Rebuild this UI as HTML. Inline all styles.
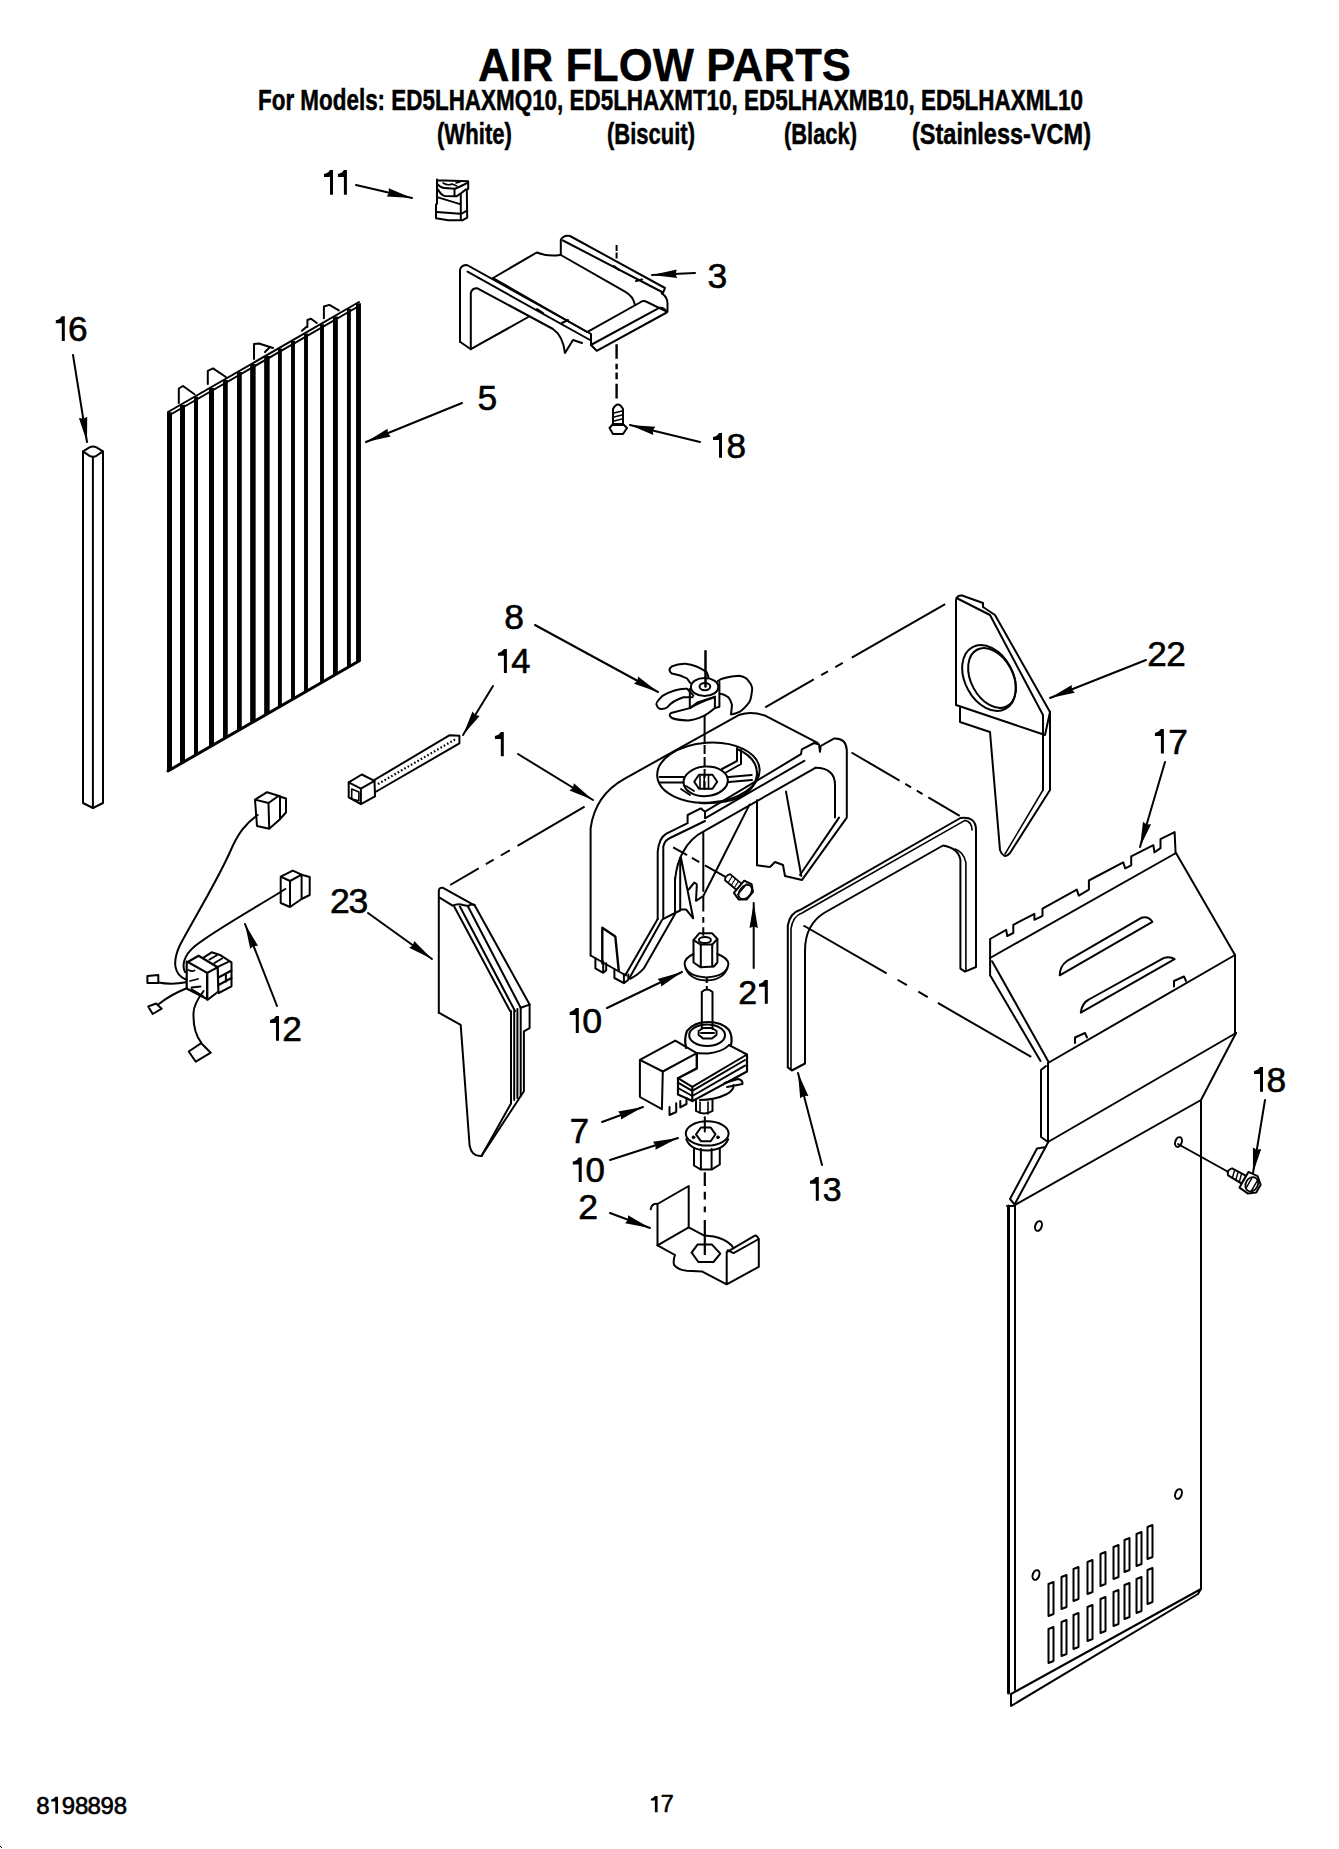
<!DOCTYPE html>
<html><head><meta charset="utf-8"><style>
html,body{margin:0;padding:0;background:#fff;width:1339px;height:1849px;overflow:hidden}
svg{display:block;font-family:"Liberation Sans",sans-serif}
</style></head><body>
<svg width="1339" height="1849" viewBox="0 0 1339 1849" stroke="#000" fill="none" stroke-linejoin="round" stroke-linecap="round">
<text x="478" y="80.8" font-size="45.5" font-weight="bold" text-anchor="start" textLength="373" lengthAdjust="spacingAndGlyphs" stroke="#000" stroke-width="0.3" fill="#000">AIR FLOW PARTS</text>
<text x="258" y="109.5" font-size="29" font-weight="bold" text-anchor="start" textLength="825" lengthAdjust="spacingAndGlyphs" stroke="#000" stroke-width="0.5" fill="#000">For Models: ED5LHAXMQ10, ED5LHAXMT10, ED5LHAXMB10, ED5LHAXML10</text>
<text x="437" y="144" font-size="29" font-weight="bold" text-anchor="start" textLength="75" lengthAdjust="spacingAndGlyphs" stroke="#000" stroke-width="0.5" fill="#000">(White)</text>
<text x="607" y="144" font-size="29" font-weight="bold" text-anchor="start" textLength="88" lengthAdjust="spacingAndGlyphs" stroke="#000" stroke-width="0.5" fill="#000">(Biscuit)</text>
<text x="784" y="144" font-size="29" font-weight="bold" text-anchor="start" textLength="73" lengthAdjust="spacingAndGlyphs" stroke="#000" stroke-width="0.5" fill="#000">(Black)</text>
<text x="912" y="144" font-size="29" font-weight="bold" text-anchor="start" textLength="179" lengthAdjust="spacingAndGlyphs" stroke="#000" stroke-width="0.5" fill="#000">(Stainless-VCM)</text>
<polygon points="324.0,174.0 325.5,173.6 328.0,172.4 330.0,170.0 333.0,170.0 333.0,194.8 330.0,194.8 330.0,177.0 324.0,177.0" fill="#000" stroke="none"/>
<polygon points="337.9,174.0 339.4,173.6 341.9,172.4 343.9,170.0 346.9,170.0 346.9,194.8 343.9,194.8 343.9,177.0 337.9,177.0" fill="#000" stroke="none"/>
<text x="707.58" y="287.80" font-size="35.43" stroke="#000" stroke-width="0.6" fill="#000">3</text>
<polygon points="55.8,320.3 57.3,319.9 59.8,318.7 61.8,316.3 64.8,316.3 64.8,341.0 61.8,341.0 61.8,323.3 55.8,323.3" fill="#000" stroke="none"/>
<text x="67.94" y="341.00" font-size="35.29" stroke="#000" stroke-width="0.6" fill="#000">6</text>
<text x="477.58" y="409.90" font-size="35.43" stroke="#000" stroke-width="0.6" fill="#000">5</text>
<polygon points="713.0,437.1 714.5,436.7 717.0,435.5 719.0,433.1 722.0,433.1 722.0,457.8 719.0,457.8 719.0,440.1 713.0,440.1" fill="#000" stroke="none"/>
<text x="726.59" y="457.75" font-size="35.21" stroke="#000" stroke-width="0.6" fill="#000">8</text>
<text x="504.18" y="628.70" font-size="35.43" stroke="#000" stroke-width="0.6" fill="#000">8</text>
<polygon points="498.0,652.9 499.5,652.5 501.9,651.3 503.9,649.0 506.9,649.0 506.9,673.1 503.9,673.1 503.9,655.8 498.0,655.8" fill="#000" stroke="none"/>
<text x="511.21" y="673.10" font-size="34.43" stroke="#000" stroke-width="0.6" fill="#000">4</text>
<text x="1147.34" y="665.70" font-size="35.14" stroke="#000" stroke-width="0.6" fill="#000">2</text>
<text x="1166.24" y="665.70" font-size="35.14" stroke="#000" stroke-width="0.6" fill="#000">2</text>
<polygon points="494.9,736.0 496.4,735.6 498.8,734.4 500.8,732.1 503.8,732.1 503.8,756.2 500.8,756.2 500.8,738.9 494.9,738.9" fill="#000" stroke="none"/>
<polygon points="1154.9,732.9 1156.4,732.5 1158.9,731.3 1160.9,728.9 1163.9,728.9 1163.9,753.6 1160.9,753.6 1160.9,735.9 1154.9,735.9" fill="#000" stroke="none"/>
<text x="1168.24" y="753.60" font-size="35.29" stroke="#000" stroke-width="0.6" fill="#000">7</text>
<text x="330.12" y="912.90" font-size="35.57" stroke="#000" stroke-width="0.6" fill="#000">2</text>
<text x="348.58" y="912.90" font-size="35.57" stroke="#000" stroke-width="0.6" fill="#000">3</text>
<text x="738.31" y="1003.70" font-size="33.86" stroke="#000" stroke-width="0.6" fill="#000">2</text>
<polygon points="759.0,983.8 760.4,983.5 762.8,982.3 764.8,980.0 767.8,980.0 767.8,1003.7 764.8,1003.7 764.8,986.7 759.0,986.7" fill="#000" stroke="none"/>
<polygon points="569.7,1011.9 571.2,1011.5 573.7,1010.3 575.8,1007.9 578.8,1007.9 578.8,1032.9 575.8,1032.9 575.8,1015.0 569.7,1015.0" fill="#000" stroke="none"/>
<text x="582.27" y="1032.90" font-size="35.71" stroke="#000" stroke-width="0.6" fill="#000">0</text>
<polygon points="270.0,1020.0 271.5,1019.6 274.0,1018.4 276.0,1016.0 279.0,1016.0 279.0,1040.7 276.0,1040.7 276.0,1023.0 270.0,1023.0" fill="#000" stroke="none"/>
<text x="282.24" y="1040.70" font-size="35.29" stroke="#000" stroke-width="0.6" fill="#000">2</text>
<polygon points="1254.0,1071.0 1255.5,1070.6 1258.0,1069.4 1260.0,1067.0 1263.0,1067.0 1263.0,1091.7 1260.0,1091.7 1260.0,1074.0 1254.0,1074.0" fill="#000" stroke="none"/>
<text x="1266.59" y="1091.70" font-size="35.29" stroke="#000" stroke-width="0.6" fill="#000">8</text>
<text x="569.86" y="1143.00" font-size="34.71" stroke="#000" stroke-width="0.6" fill="#000">7</text>
<polygon points="572.8,1161.6 574.3,1161.2 576.8,1160.0 578.7,1157.6 581.7,1157.6 581.7,1182.0 578.7,1182.0 578.7,1164.5 572.8,1164.5" fill="#000" stroke="none"/>
<text x="585.41" y="1182.00" font-size="34.86" stroke="#000" stroke-width="0.6" fill="#000">0</text>
<polygon points="810.0,1180.8 811.4,1180.5 813.8,1179.3 815.8,1177.0 818.8,1177.0 818.8,1200.7 815.8,1200.7 815.8,1183.7 810.0,1183.7" fill="#000" stroke="none"/>
<text x="822.65" y="1200.70" font-size="33.86" stroke="#000" stroke-width="0.6" fill="#000">3</text>
<text x="578.22" y="1218.90" font-size="35.57" stroke="#000" stroke-width="0.6" fill="#000">2</text>
<text x="36.14" y="1813.60" font-size="24.00" stroke="#000" stroke-width="0.6" fill="#000">8</text>
<polygon points="51.2,1799.5 52.2,1799.2 53.9,1798.4 55.3,1796.8 58.0,1796.8 58.0,1813.6 55.3,1813.6 55.3,1801.6 51.2,1801.6" fill="#000" stroke="none"/>
<text x="61.70" y="1813.60" font-size="24.00" stroke="#000" stroke-width="0.6" fill="#000">9</text>
<text x="74.94" y="1813.60" font-size="24.00" stroke="#000" stroke-width="0.6" fill="#000">8</text>
<text x="87.44" y="1813.60" font-size="24.00" stroke="#000" stroke-width="0.6" fill="#000">8</text>
<text x="100.60" y="1813.60" font-size="24.00" stroke="#000" stroke-width="0.6" fill="#000">9</text>
<text x="113.74" y="1813.60" font-size="24.00" stroke="#000" stroke-width="0.6" fill="#000">8</text>
<polygon points="650.9,1798.6 651.9,1798.4 653.5,1797.6 654.9,1796.0 657.6,1796.0 657.6,1812.3 654.9,1812.3 654.9,1800.6 650.9,1800.6" fill="#000" stroke="none"/>
<text x="660.74" y="1812.30" font-size="23.29" stroke="#000" stroke-width="0.6" fill="#000">7</text>
<line x1="356" y1="185" x2="412" y2="198" stroke-width="2" />
<polygon points="412.0,198.0 386.7,196.4 389.1,192.7 388.6,188.3" fill="#000" stroke="none"/>
<line x1="695" y1="273" x2="652" y2="275" stroke-width="2" />
<polygon points="652.0,275.0 676.8,269.6 675.5,273.9 677.2,278.0" fill="#000" stroke="none"/>
<line x1="73" y1="355" x2="87" y2="442" stroke-width="2" />
<polygon points="87.0,442.0 78.9,418.0 83.3,418.8 87.2,416.7" fill="#000" stroke="none"/>
<line x1="462" y1="403" x2="366" y2="442" stroke-width="2" />
<polygon points="366.0,442.0 387.6,428.7 387.8,433.2 390.7,436.5" fill="#000" stroke="none"/>
<line x1="700" y1="442" x2="630" y2="425" stroke-width="2" />
<polygon points="630.0,425.0 655.3,426.8 652.8,430.5 653.3,435.0" fill="#000" stroke="none"/>
<line x1="535" y1="625" x2="658" y2="692" stroke-width="2" />
<polygon points="658.0,692.0 634.0,683.7 637.4,680.8 638.1,676.4" fill="#000" stroke="none"/>
<line x1="493" y1="686" x2="463" y2="735" stroke-width="2" />
<polygon points="463.0,735.0 472.5,711.5 475.3,715.0 479.6,715.9" fill="#000" stroke="none"/>
<line x1="1146" y1="660" x2="1050" y2="698" stroke-width="2" />
<polygon points="1050.0,698.0 1071.7,684.9 1071.9,689.4 1074.8,692.7" fill="#000" stroke="none"/>
<line x1="518" y1="754" x2="593" y2="800" stroke-width="2" />
<polygon points="593.0,800.0 569.5,790.5 573.0,787.7 573.9,783.3" fill="#000" stroke="none"/>
<line x1="1165" y1="762" x2="1140" y2="847" stroke-width="2" />
<polygon points="1140.0,847.0 1143.0,821.8 1146.6,824.5 1151.1,824.2" fill="#000" stroke="none"/>
<line x1="368" y1="913" x2="432" y2="959" stroke-width="2" />
<polygon points="432.0,959.0 409.2,947.8 412.9,945.3 414.2,941.0" fill="#000" stroke="none"/>
<line x1="753.7" y1="968" x2="753.7" y2="903" stroke-width="2" />
<polygon points="753.7,903.0 757.9,928.0 753.7,926.5 749.5,928.0" fill="#000" stroke="none"/>
<line x1="607" y1="1008" x2="682" y2="972" stroke-width="2" />
<polygon points="682.0,972.0 661.3,986.6 660.8,982.2 657.6,979.0" fill="#000" stroke="none"/>
<line x1="277" y1="1006" x2="245" y2="924" stroke-width="2" />
<polygon points="245.0,924.0 258.0,945.8 253.5,945.9 250.2,948.8" fill="#000" stroke="none"/>
<line x1="1265" y1="1100" x2="1253" y2="1173" stroke-width="2" />
<polygon points="1253.0,1173.0 1252.9,1147.6 1256.8,1149.8 1261.2,1149.0" fill="#000" stroke="none"/>
<line x1="602" y1="1122" x2="643" y2="1107" stroke-width="2" />
<polygon points="643.0,1107.0 621.0,1119.5 620.9,1115.1 618.1,1111.6" fill="#000" stroke="none"/>
<line x1="610" y1="1160" x2="678" y2="1138" stroke-width="2" />
<polygon points="678.0,1138.0 655.5,1149.7 655.6,1145.2 652.9,1141.7" fill="#000" stroke="none"/>
<line x1="610" y1="1213" x2="650" y2="1228" stroke-width="2" />
<polygon points="650.0,1228.0 625.1,1223.2 628.0,1219.7 628.1,1215.3" fill="#000" stroke="none"/>
<line x1="822" y1="1165" x2="798" y2="1073" stroke-width="2" />
<polygon points="798.0,1073.0 808.4,1096.1 803.9,1095.7 800.2,1098.3" fill="#000" stroke="none"/>
<path d="M83,451.4 L89.5,447.3 Q93,445.8 96.5,447.3 L102.9,451.4 L96.5,455.8 Q93,457.6 89.5,455.8 Z" stroke-width="2" fill="none" />
<path d="M83,451.4 L83,803 L93,808 L103,803 L103,451.4" stroke-width="2" fill="none" />
<line x1="92.9" y1="457" x2="92.9" y2="808" stroke-width="2" />
<line x1="169.5" y1="412.13612565445027" x2="169.5" y2="770.1361256544502" stroke-width="5" stroke-linecap="butt"/>
<line x1="182.5" y1="404.64921465968587" x2="182.5" y2="762.6492146596859" stroke-width="5" stroke-linecap="butt"/>
<line x1="196" y1="396.8743455497382" x2="196" y2="754.8743455497382" stroke-width="4" stroke-linecap="butt"/>
<line x1="211.5" y1="387.9476439790576" x2="211.5" y2="745.9476439790576" stroke-width="5" stroke-linecap="butt"/>
<line x1="225.4" y1="379.94240837696333" x2="225.4" y2="737.9424083769634" stroke-width="4.75" stroke-linecap="butt"/>
<line x1="239.4" y1="371.87958115183244" x2="239.4" y2="729.8795811518324" stroke-width="4.75" stroke-linecap="butt"/>
<line x1="252.9" y1="364.1047120418848" x2="252.9" y2="722.1047120418848" stroke-width="5.5" stroke-linecap="butt"/>
<line x1="266.9" y1="356.04188481675396" x2="266.9" y2="714.041884816754" stroke-width="5.5" stroke-linecap="butt"/>
<line x1="279.9" y1="348.5549738219895" x2="279.9" y2="706.5549738219895" stroke-width="3.9" stroke-linecap="butt"/>
<line x1="293" y1="341.0104712041885" x2="293" y2="699.0104712041884" stroke-width="3.9" stroke-linecap="butt"/>
<line x1="306" y1="333.5235602094241" x2="306" y2="691.5235602094241" stroke-width="3.9" stroke-linecap="butt"/>
<line x1="322" y1="324.30890052356017" x2="322" y2="682.3089005235602" stroke-width="3.9" stroke-linecap="butt"/>
<line x1="335.4" y1="316.59162303664925" x2="335.4" y2="674.5916230366493" stroke-width="4.9" stroke-linecap="butt"/>
<line x1="348.9" y1="308.8167539267016" x2="348.9" y2="666.8167539267016" stroke-width="3.9" stroke-linecap="butt"/>
<line x1="358.5" y1="303.28795811518324" x2="358.5" y2="661.2879581151832" stroke-width="4.9" stroke-linecap="butt"/>
<line x1="168" y1="412" x2="359" y2="302" stroke-width="2" />
<line x1="168" y1="416" x2="359" y2="306" stroke-width="2" />
<line x1="168" y1="771" x2="359" y2="661.0" stroke-width="3" />
<path d="M178.8,403 L178.8,388.5 L183,386 L194.5,394.3" stroke-width="2" fill="none" />
<path d="M207.8,384 L207.8,370.8 L213,368.4 L225.9,377" stroke-width="2" fill="none" />
<path d="M254,359 L254,344 L259,343.5 L273,348" stroke-width="2" fill="none" />
<path d="M265,352 L270,347" stroke-width="2" fill="none" />
<path d="M307.4,327 L307.4,320 L311,318.8 L316.8,323 M302,330.8 L307.4,326" stroke-width="2" fill="none" />
<path d="M323.9,318.2 L323.9,306.5 L329.4,304.9 L338.8,310.4" stroke-width="2" fill="none" />
<path d="M437,179.5 L437,203.7 L436,204.5 L436,218.3 L448.2,220.2 L462.7,220.2 L467.2,217.6 L466.8,189.5 L468.2,189 L468.2,181.3 L437,180.2" stroke-width="2" fill="none" />
<line x1="460.8" y1="194.4" x2="460.8" y2="219.8" stroke-width="2" />
<path d="M437.7,184.3 Q441,188 444.4,188 L454.9,188.8 Q462,186 467.2,182.8" stroke-width="2" fill="none" />
<path d="M438,189.5 Q441,195 444.4,195.9 L456.4,196.3 Q462,193 465.7,189.5" stroke-width="2" fill="none" />
<path d="M438,197.4 L460.1,204.1" stroke-width="2" fill="none" />
<path d="M436.6,212 L460.1,213.8 M462,213.4 L466,211.2" stroke-width="2" fill="none" />
<path d="M454.5,189.5 L454.5,195.2" stroke-width="2" fill="none" />
<path d="M443,183 Q448,186 452,184 L457,186 M456,183 L460,182 M459,187 L462,185" stroke-width="1.5" fill="none" />
<path d="M460,341.7 L460,270 Q461,265 467,265 L591,334 L591,345" stroke-width="2" fill="none" />
<path d="M460,341.7 L470.8,349.2 L528.3,317" stroke-width="2" fill="none" />
<path d="M470.8,349.2 L470.8,293 Q472,288 477.5,288.3 L553,329 Q563,336 565,353 L573,340 L582,343" stroke-width="2" fill="none" />
<path d="M467.5,271.7 L590,340" stroke-width="2" fill="none" />
<path d="M493,278 L587,332" stroke-width="2" fill="none" />
<path d="M493,278 L536.7,252.5 Q548,257 560,255 L560.8,255" stroke-width="2" fill="none" />
<path d="M560.8,255 L560.8,240 Q563,235 570,236 L665,288 L663,293" stroke-width="2" fill="none" />
<path d="M563,240.5 L663,292.5" stroke-width="2" fill="none" />
<path d="M560.8,255 L625,291.7 Q633,296 635,305" stroke-width="2" fill="none" />
<path d="M661.7,293.3 Q667.5,297 667.5,303.3 L667.5,311.7" stroke-width="2" fill="none" />
<path d="M588,331.7 L640,302.5 Q643,300 647,302 L666.7,311.7" stroke-width="2" fill="none" />
<path d="M590.8,345 L659.2,307.8 Q664,307 666.7,311.7" stroke-width="2" fill="none" />
<path d="M591,345 L596.7,350.8 L666.7,312.5" stroke-width="2" fill="none" />
<line x1="616.6" y1="245" x2="616.6" y2="259.4" stroke-width="2" stroke-dasharray="6 1.5 6" stroke-linecap="butt"/>
<line x1="616.6" y1="344.2" x2="616.6" y2="398.6" stroke-width="2.4" stroke-dasharray="14.5 5 5.6 3.3 6.7 4.4 15" stroke-linecap="butt"/>
<path d="M614,266 L619,270 M636,281 L642,279.5" stroke-width="2" fill="none" />
<path d="M537,309 L543,313 M562,323 L568,320" stroke-width="2" fill="none" />
<path d="M613,409 Q618,400 623,409 L623,425 L613,425 Z" stroke-width="2" fill="none" />
<path d="M614,413 L622,411 M614,417 L622,415 M614,421 L622,419" stroke-width="1.5" fill="none" />
<path d="M609.5,428 L613,424 L623,424 L627,428 L623,434 L613,434 Z" stroke-width="2" fill="none" />
<path d="M348.7,782.3 L361.8,774.5 L374.5,780.8 L360.9,788.6 Z" stroke-width="2" fill="none" />
<path d="M348.7,782.3 L348.7,797.3 L360.9,804.1 L360.9,788.6 M360.9,804.1 L375,796.4 L374.5,780.8" stroke-width="2" fill="none" />
<path d="M351.7,789 L351.7,799 L358.9,800.7 L358.9,792 Z" stroke-width="1.6" fill="none" />
<path d="M374.5,779.9 L449.7,735.2 L459.4,735.7 L459.4,743.4 L375.4,792" stroke-width="2" fill="none" />
<path d="M378,784 L455,739.5" stroke-width="2.2" stroke-dasharray="1.6 2.2" stroke-linecap="butt"/>
<path d="M255,799.6 L257,826 L269.2,828.7 L280,819.2 L280,796.2 L267.1,792.2 Z M255,799.6 L268.5,803 L278,796.2 M268.5,803 L269.2,828.7" stroke-width="2" fill="none" />
<path d="M278,796 L286,798.5 L286,812.5 L280,819" stroke-width="2" fill="none" />
<path d="M257.7,815 C246,823 238,833 230,852 C215,885 192,922 180,945 C172,962 174,975 186,979.5" stroke-width="2" fill="none" />
<path d="M280.7,878 L280.7,903 L290,907 L301.6,899 L301.6,874.7 L292.8,870.6 L280.7,876.7 L290,881 L301.6,874.7 M290,881 L290,907" stroke-width="2" fill="none" />
<path d="M301.6,874.7 L309.7,877 L309.7,895 L301.6,899" stroke-width="2" fill="none" />
<path d="M285.4,889 C260,905 215,930 195,946 C183,956 182,966 185,972" stroke-width="2" fill="none" />
<path d="M187.8,962 L198.6,955.7 L217.7,967.3 L207.2,972.9 Z" stroke-width="2.2" fill="none" />
<path d="M186.7,961.7 L186.7,988.5 L208,999.5 L218.4,991.5 L217.7,967.3" stroke-width="2.2" fill="none" />
<line x1="207.2" y1="972.9" x2="207.2" y2="999.5" stroke-width="2.4" />
<path d="M204.2,957.2 L211.7,952.3 L220.7,955.3 L231.5,962.4 L231.5,986.3 L218.7,993" stroke-width="2" fill="none" />
<path d="M217.7,966.9 L228.9,961.7 M209.5,959.5 L216.5,955.5 M214.5,963 L222,958.5" stroke-width="2" fill="none" />
<path d="M218.5,977.5 L231.5,970.5 M218.5,985 L231.5,978 M225.9,973.6 L225.9,981.8" stroke-width="2" fill="none" />
<path d="M188.5,970 Q192,972 194.5,970.5 M190,981 L198,979 M191.5,987.5 L200.5,986.5 M191.5,989.3 L203,996" stroke-width="1.8" fill="none" />
<path d="M147.4,976 L147.4,983 L158.3,983 L158.3,975 Z" stroke-width="2" fill="none" />
<path d="M158.3,982.5 Q172,985 186,982.2" stroke-width="2" fill="none" />
<path d="M148.2,1006.5 L156.1,1003.5 L161.7,1008.7 L152.7,1014 Z" stroke-width="2" fill="none" />
<path d="M157.6,1005 Q170,995 186.7,988.3" stroke-width="2" fill="none" />
<path d="M203.6,991 Q193,1005 193.5,1014 Q193,1032 201.2,1042.6" stroke-width="2" fill="none" />
<path d="M188.7,1051.5 L201.2,1043.2 L210.8,1052.7 L195.8,1061.7 Z" stroke-width="2" fill="none" />
<path d="M438.8,1012.7 L438.8,891 Q439,887 443,887.8 L473.6,904.9" stroke-width="2" fill="none" />
<path d="M439.6,897.6 L452.6,905.7 Q458,903 463,905 L468,906 Q472,904 474.5,904.9" stroke-width="2" fill="none" />
<line x1="454.2" y1="906.5" x2="510.1" y2="1011" stroke-width="2" />
<line x1="459.9" y1="906.5" x2="515" y2="1011" stroke-width="2" />
<line x1="468" y1="906.5" x2="520.7" y2="1007.8" stroke-width="2" />
<line x1="474.5" y1="904.9" x2="529.6" y2="1004.6" stroke-width="2" />
<path d="M520.7,1007.8 L529.6,1004.6 L529.6,1028.1 L523.9,1031.3 L523.9,1091.3 L481.8,1155.4" stroke-width="2" fill="none" />
<line x1="511" y1="1011" x2="511" y2="1103.5" stroke-width="2" />
<line x1="514.2" y1="1011" x2="514.2" y2="1100" stroke-width="2" />
<line x1="517.4" y1="1009" x2="517.4" y2="1098" stroke-width="2" />
<line x1="520.7" y1="1008" x2="520.7" y2="1096" stroke-width="2" />
<line x1="511" y1="1103.5" x2="481.8" y2="1155.4" stroke-width="2" />
<path d="M438.8,1012.7 L460.7,1024.9 L469.6,1145.7 Q472,1157 481.8,1156" stroke-width="2" fill="none" />
<line x1="450.2" y1="885" x2="584.6" y2="806.7" stroke-width="2" stroke-dasharray="33 8.3 9 8.3 10.4 8.9 80" stroke-linecap="butt"/>
<path d="M590.6,955.5 L590.6,828.4 Q595,795 624.8,778.6 L739.6,714.7 Q752,711 765.6,715.8 L817.6,742.9" stroke-width="2" fill="none" />
<path d="M590.6,955.5 L626,975.5" stroke-width="2" fill="none" />
<path d="M595.4,958 L595.4,968.4 L603.2,972.8 L606.2,970.2 L606.2,963.3 M603.2,961.5 L603.2,972.8" stroke-width="2" fill="none" />
<path d="M614.4,969.3 L614.4,978 L623.9,983.2 L628.3,979.7 L628.3,974.5 M623.9,974 L623.9,983.2" stroke-width="2" fill="none" />
<path d="M602.3,963.3 L602.3,927.8 L615.3,936.4 L618.7,970.2" stroke-width="2.4" fill="none" />
<path d="M657.7,919.1 L657.7,851.6 Q659,838 666,833.8 L687.6,823.2 L687.6,815 L700.8,808.4 L705,811.7 L705,818.3 L804.3,760.8" stroke-width="2" fill="none" />
<path d="M663.3,918.3 L663.3,846.4 Q665,840 670,838 L705,821" stroke-width="2" fill="none" />
<path d="M657.7,919.1 L625.7,974.5" stroke-width="2" fill="none" />
<path d="M662,920 L630,977.1" stroke-width="2" fill="none" />
<path d="M675,913.9 L643.8,968.4 Q638,975 630,978.8" stroke-width="2" fill="none" />
<path d="M662.9,919.1 L675,913 L680.2,910.5" stroke-width="2" fill="none" />
<path d="M675,880 Q677,862 682.8,852.5 Q690,838 705,830.6 L815.4,767.8" stroke-width="2" fill="none" />
<path d="M675,913 L675,878 M680.2,858 L680.2,909.6 L686.2,909.6 L693.2,918.3 L681,858" stroke-width="2" fill="none" />
<path d="M688.7,889.5 L694.3,882.6 Q697,883.5 696.8,885.4 L696,900.8 L703.3,896 L749.5,804.6" stroke-width="2" fill="none" />
<path d="M705,811.7 L801,754.2 L801.8,749.3 L814.2,743 L819,744.5 L820,751.8 L820.7,746 L833.9,738.6 Q846,738 846.8,750 L846.8,817.6 L802.4,879.3" stroke-width="2" fill="none" />
<path d="M839,817.6 L800,875" stroke-width="2" fill="none" />
<path d="M815.4,767.8 Q835,768 835,785 L835,817.6" stroke-width="2" fill="none" />
<path d="M757,800.3 L757,865.3 L770,867 L775,862 L783,865 L785,876 L802,880" stroke-width="2" fill="none" />
<line x1="786" y1="791.6" x2="801.3" y2="876" stroke-width="2" />
<ellipse cx="708.4" cy="772.6" rx="51.3" ry="30" transform="rotate(-4 708.4 772.6)" stroke-width="2" fill="none"/>
<path d="M737,749 Q758,758 757,775 Q755,792 732,800 Q715,804 700,803" stroke-width="2.2" fill="none" />
<ellipse cx="705.7" cy="781.3" rx="22.2" ry="14.8" transform="rotate(-4 705.7 781.3)" stroke-width="2" fill="none"/>
<path d="M694.2,781.8 L699,774.8 L712.5,774.8 L717.2,781.8 L712.5,788.7 L699,788.7 Z" stroke-width="2" fill="none" />
<path d="M700,776 L700,788 M704.2,775 L704.2,789 M708.5,775 L708.5,789" stroke-width="1.6" fill="none" />
<path d="M659.7,777 L683.5,777 M659.7,782.5 L683.5,782.5" stroke-width="2" fill="none" />
<path d="M728.7,777 L751.7,775 M728.7,782 L752,780" stroke-width="2" fill="none" />
<path d="M722,769 L737,761 L737,748 M725,773 L741,764 L741,750" stroke-width="2" fill="none" />
<path d="M681,789 L690,795 M686,786 L694,791" stroke-width="1.8" fill="none" />
<line x1="705.5" y1="651.2" x2="705.5" y2="686.6" stroke-width="2.5" />
<path d="M690.2,683 L687.1,678.5 Q680.8,675 671.9,673.6 Q667,670 671.9,666.4 Q678,663.5 685.3,663.7 Q697,665 706.8,672.3 L708.6,677.6" stroke-width="2" fill="none" />
<path d="M693.4,695.6 L687.1,688.8 Q676.4,688 662.9,695.6 Q655,703 656.6,705 Q658,709 661.1,709 Q665,709 667.4,707.2 Q672,701 683.5,697.3 L692.5,697.3" stroke-width="2" fill="none" />
<path d="M714.9,708.1 Q708,714 703.2,716.2 Q695,720 688,720.6 Q676,720 671.9,718 Q668,715 671,713 Q676,711.7 689.8,708.1 Q694,705 697,702.7 Q708,699 714,697.3" stroke-width="2" fill="none" />
<path d="M717.6,681.2 Q723,677 739.1,675.8 Q746,677 748,680.3 Q753,686 752.1,690.2 Q751,700 749,702.7 Q744,709 740,711.7 Q735,714 731,714.4 Q732,706 731.9,704.5 Q730,699 728.3,697.3 Q724,694 720.3,693.8" stroke-width="2" fill="none" />
<ellipse cx="704.6" cy="687" rx="13.7" ry="9" transform="rotate(0 704.6 687)" stroke-width="2" fill="none"/>
<ellipse cx="704.9" cy="686.6" rx="5.4" ry="3.6" transform="rotate(0 704.9 686.6)" stroke-width="2" fill="none"/>
<path d="M689.8,689 L689.8,708.1 M719.4,682 L719.4,706.8 L714.9,708.1 L714.9,696.5" stroke-width="2" fill="none" />
<path d="M689.8,708.1 Q700,702 714.9,697" stroke-width="2" fill="none" />
<line x1="704.6" y1="716.2" x2="704.6" y2="742" stroke-width="2" />
<line x1="704.6" y1="745" x2="704.6" y2="790" stroke-width="2" stroke-dasharray="9 3" stroke-linecap="butt"/>
<line x1="703.3" y1="832.8" x2="703.3" y2="891.1" stroke-width="2" />
<line x1="703.3" y1="896" x2="703.3" y2="936" stroke-width="2" stroke-dasharray="15.4 5.6 5.7 4.5 8.5" stroke-linecap="butt"/>
<line x1="673.2" y1="847.3" x2="726.8" y2="877.7" stroke-width="2" stroke-dasharray="16 5.5 8.5 6.5 30" stroke-linecap="butt"/>
<g transform="translate(726.8,876.5) rotate(40)"><path d="M1,-4 Q-2,0 1,4 L17,4 L17,-4 Z" stroke-width="1.8" fill="#fff"/><path d="M4,-3.5 L5,3.5 M8,-3.5 L9,3.5 M12,-3.5 L13,3.5" stroke-width="1.2" stroke-dasharray="1.5 1"/><path d="M16,-8 L24,-10 L30,-5 L30,5 L24,10 L16,8 Z" stroke-width="2" fill="#fff"/><ellipse cx="24" cy="0" rx="5.5" ry="8" stroke-width="1.6"/><path d="M20,-7 L20,7" stroke-width="1.4"/></g>
<path d="M693.5,940.2 L699.2,933.3 L712.2,933.3 L717.4,939 L712.2,944.6 L700.8,944.6 Z" stroke-width="2" fill="none" />
<ellipse cx="704.9" cy="940" rx="6" ry="3" transform="rotate(0 704.9 940)" stroke-width="2" fill="none"/>
<path d="M693.5,940.2 L693.5,962.5 L700.8,967.3 L713.8,966.5 L717.4,962.5 L717.4,939" stroke-width="2" fill="none" />
<path d="M700.8,944.6 L700.8,967.3 M712.2,944.6 L712.2,966.5" stroke-width="2" fill="none" />
<path d="M693.5,954 Q684.6,958 684.6,964 Q686,976 706.5,977.5 Q727,976 728.4,964 Q728,958 717.4,954" stroke-width="2" fill="none" />
<path d="M685.5,968 Q690,980 706.5,980.5 Q723,980 727.5,968" stroke-width="2" fill="none" />
<line x1="706.8" y1="978" x2="706.8" y2="990" stroke-width="2" stroke-dasharray="5 3" stroke-linecap="butt"/>
<path d="M701.8,1029 L701.8,992 Q707,987 712.5,992 L712.5,1029" stroke-width="2" fill="none" />
<path d="M698.6,1031 L703,1028 L712,1028 L716.5,1031 L716.5,1035 L712,1038.4 L703,1038.4 L698.6,1035 Z M701,1033 L714,1033" stroke-width="2" fill="none" />
<path d="M686,1048 Q684,1038 687,1031 Q694,1022 708,1022 Q722,1022 729,1030 Q733,1037 731,1045" stroke-width="2.2" fill="none" />
<ellipse cx="707.1" cy="1035.2" rx="17.9" ry="10.75" transform="rotate(0 707.1 1035.2)" stroke-width="2" fill="none"/>
<path d="M696.8,1053.2 L708,1053.5 Q722,1052 729.1,1045.1" stroke-width="2" fill="none" />
<path d="M639.9,1059.9 L675.3,1040.6 L696.8,1053.2 L662.8,1071.5 Z" stroke-width="2" fill="none" />
<path d="M639.9,1059.9 L639.9,1097 L661.9,1109.2 L662.8,1071.5" stroke-width="2" fill="none" />
<path d="M696.8,1053.2 L696.8,1068.4 L678,1078.2" stroke-width="2.4" fill="none" />
<path d="M678,1078.2 L692.3,1086.8 L747,1054.5 L729.1,1045.1" stroke-width="2" fill="none" />
<path d="M678,1078.2 L678,1094.4 L692.3,1101.1 L692.3,1086.8" stroke-width="2.2" fill="none" />
<path d="M747,1054.5 L747,1071.5 L692.3,1101.1" stroke-width="2.2" fill="none" />
<path d="M678,1082.7 L692.3,1090.8 L745,1060 M678,1088 L692.3,1096 L745,1065.6" stroke-width="2" fill="none" />
<path d="M700,1100 Q715,1100 727,1094 Q734,1090 733.6,1085" stroke-width="2" fill="none" />
<path d="M724.6,1083 L738,1079 Q743,1080 742.5,1084 L727,1087" stroke-width="2" fill="none" />
<path d="M696,1101 L696,1111 Q704,1116 712.5,1111 L712.5,1100" stroke-width="2" fill="none" />
<path d="M700,1102 L700,1113 M708,1102 L708,1114" stroke-width="1.6" fill="none" />
<path d="M669.5,1107 L669.5,1115 L676.2,1112 L676.2,1103.3 M680.3,1101 L680.3,1107.4 L686.5,1104 L686.5,1098" stroke-width="2" fill="none" />
<line x1="704.8" y1="1117.3" x2="704.8" y2="1131.4" stroke-width="2" />
<ellipse cx="707.2" cy="1133.4" rx="21.4" ry="12.2" transform="rotate(0 707.2 1133.4)" stroke-width="2" fill="none"/>
<path d="M686.3,1139.2 Q690,1150 707.2,1150.5 Q724,1150 728.2,1139.2" stroke-width="2" fill="none" />
<path d="M696,1134.3 L700.9,1127.5 L710.7,1127.5 L715.5,1134.3 L710.7,1141.2 L700.9,1141.2 Z" stroke-width="2" fill="none" />
<circle cx="693.5" cy="1137.3" r="1.4" fill="#000"/><circle cx="718" cy="1137.3" r="1.4" fill="#000"/>
<path d="M694,1148 L694,1165.5 L700.4,1169.4 L712,1169.4 L719.8,1164.5 L719.8,1148" stroke-width="2" fill="none" />
<path d="M700.9,1149 L700.9,1169 M711.6,1149 L711.6,1169" stroke-width="2" fill="none" />
<line x1="704.8" y1="1172.3" x2="704.8" y2="1255" stroke-width="2.2" stroke-dasharray="13.7 5.8 7.8 6.8 5.8 7.8 35" stroke-linecap="butt"/>
<path d="M650.7,1209.3 Q652,1203 657.5,1204 L688.7,1186 L688.7,1227.3" stroke-width="2" fill="none" />
<path d="M657.5,1204 L657.5,1245.3 L688.7,1227.3 L704.3,1235.6 L714,1236.6 Q725,1239 731.5,1245.3 L733.5,1248.3" stroke-width="2" fill="none" />
<path d="M657.5,1245.3 L675,1255 Q673,1260 674,1264.8 Q678,1270 686.7,1270.7 L702.3,1271.6 L726.7,1284.3 L758.8,1266.8 L758.8,1239.5 Q757,1235 754.9,1235.6 L726.7,1252.2 L726.7,1284.3" stroke-width="2" fill="none" />
<path d="M727.6,1250.2 L733.5,1253.1 L758.8,1239" stroke-width="2" fill="none" />
<path d="M691.6,1252.6 L697.5,1244.6 L712,1244.6 L720.3,1253.6 L713.5,1262 L698.4,1262 Z" stroke-width="2" fill="none" />
<path d="M787.8,1067.4 L787.8,925.5 Q790,913 800.4,909.8 L960.4,818 Q976,816 976,830 L976,967 L965,971.7 L960.4,968.6 L960.4,859.6 Q958,848 943,845.5 L824,913 Q805,925 805,950.6 L805,1063.5 L791.8,1070.5 L787.8,1067.4" stroke-width="2" fill="none" />
<path d="M791,1069.8 L791,928.6 Q793,916 802,913 L965,820.4 Q972,822 972,830" stroke-width="1.6" fill="none" />
<path d="M965.9,971 L965.9,862.7 Q964,852 955,849" stroke-width="1.6" fill="none" />
<line x1="803.5" y1="925.5" x2="1031.2" y2="1056.8" stroke-width="2" stroke-dasharray="96 12.6 10.8 13.2 10.8 11.7 110" stroke-linecap="butt"/>
<line x1="851.5" y1="752.5" x2="959.7" y2="815.8" stroke-width="2" stroke-dasharray="55.7 6.6 6.7 6.7 6.6 6.7 40" stroke-linecap="butt"/>
<line x1="765.2" y1="707.3" x2="945.2" y2="604.2" stroke-width="2" stroke-dasharray="56 8.5 7.8 8.5 8.6 10.4 110" stroke-linecap="butt"/>
<path d="M956,705 L956,600 Q957,595 962,595.5 L983,603 L983,607 L995,615 L1050,712 L1050,790 L1010,853 Q1004,860 1000,850 L990,732 L960,722 L960,708" stroke-width="2" fill="none" />
<path d="M956.5,598 L990,615 L1043,715 L1043,790" stroke-width="2" fill="none" />
<path d="M956,705 L1045,735 L1050,712" stroke-width="2" fill="none" />
<path d="M1043,790 L1005,854" stroke-width="1.5" fill="none" />
<ellipse cx="989" cy="678" rx="24" ry="35" transform="rotate(-28 989 678)" stroke-width="2" fill="none"/>
<ellipse cx="992" cy="678" rx="21" ry="32" transform="rotate(-28 992 678)" stroke-width="2" fill="none"/>
<path d="M990.1,975.3 L990.1,939 L1006.2,929.9 L1007.2,936 L1013.3,933 L1013.3,924.9 L1034.4,913.8 L1034.4,919.8 L1042.5,915.8 L1042.5,908.7 L1076.8,889.6 L1078.8,895.6 L1088.9,889.6 L1088.9,880.5 L1123.2,862.3 L1125.2,868.4 L1131.2,865.4 L1131.2,856.3 L1153.4,845.2 L1154.4,852.3 L1160.5,848.2 L1160.5,839.2 L1174.6,832.1 L1175.6,853.3" stroke-width="2" fill="none" />
<line x1="990" y1="958" x2="1176" y2="853" stroke-width="2" />
<line x1="1176" y1="853" x2="1235" y2="955" stroke-width="2" />
<line x1="1235" y1="955" x2="1235" y2="1033" stroke-width="2" />
<line x1="990.1" y1="975.3" x2="1040.5" y2="1061" stroke-width="2" />
<line x1="992.1" y1="961.2" x2="1048.6" y2="1062" stroke-width="2" />
<line x1="1048" y1="1063" x2="1235" y2="955" stroke-width="2" />
<path d="M1048,1063 L1048,1142 L1236,1033" stroke-width="2" fill="none" />
<path d="M1046,1066 L1041,1070 L1041,1137 L1048,1142" stroke-width="2" fill="none" />
<path d="M1236,1033 L1201,1100 L1015,1205" stroke-width="2" fill="none" />
<path d="M1046,1147 L1037,1148.5 L1010,1199 L1014.6,1204.5 M1048.3,1142 L1014.6,1204.5" stroke-width="2" fill="none" />
<line x1="1008.5" y1="1206" x2="1008.5" y2="1693" stroke-width="3" />
<line x1="1015" y1="1205" x2="1015" y2="1690" stroke-width="2" />
<path d="M1007,1206 L1015,1206" stroke-width="2" fill="none" />
<line x1="1201" y1="1100" x2="1201" y2="1589" stroke-width="2" />
<path d="M1201,1589 L1011,1694 L1011,1706 L1198,1594 L1201,1589" stroke-width="2" fill="none" />
<path d="M1066.7,961.2 L1141.3,917.8 Q1148,915.5 1152.4,921.8 L1059.7,975.3 Q1060,966 1066.7,961.2 Z" stroke-width="2" fill="none" />
<path d="M1088.9,999.5 L1163.5,958.1 Q1170,956 1174.6,959.1 L1080.8,1012.6 Q1082,1003 1088.9,999.5 Z" stroke-width="2" fill="none" />
<path d="M1174,986.5 L1174,981 L1184,976.5 L1186,981" stroke-width="2" fill="none" />
<path d="M1075,1043 L1075,1037.5 L1085,1033 L1087,1037.5" stroke-width="2" fill="none" />
<ellipse cx="1178.5" cy="1142" rx="3.2" ry="5" transform="rotate(20 1178.5 1142)" stroke-width="2" fill="none"/>
<ellipse cx="1038.5" cy="1226" rx="3.2" ry="5" transform="rotate(20 1038.5 1226)" stroke-width="2" fill="none"/>
<ellipse cx="1178.5" cy="1494" rx="3.2" ry="5" transform="rotate(20 1178.5 1494)" stroke-width="2" fill="none"/>
<ellipse cx="1036" cy="1575" rx="3.2" ry="5" transform="rotate(20 1036 1575)" stroke-width="2" fill="none"/>
<path d="M1048.5,1584 L1053.5,1582 L1053.5,1614 L1048.5,1616 Z" stroke-width="2" fill="none" />
<path d="M1061.5,1577 L1066.5,1575 L1066.5,1607 L1061.5,1609 Z" stroke-width="2" fill="none" />
<path d="M1073.5,1569 L1078.5,1567 L1078.5,1599 L1073.5,1601 Z" stroke-width="2" fill="none" />
<path d="M1087.5,1562 L1092.5,1560 L1092.5,1592 L1087.5,1594 Z" stroke-width="2" fill="none" />
<path d="M1100.5,1554 L1105.5,1552 L1105.5,1584 L1100.5,1586 Z" stroke-width="2" fill="none" />
<path d="M1113.5,1547 L1118.5,1545 L1118.5,1577 L1113.5,1579 Z" stroke-width="2" fill="none" />
<path d="M1124.5,1540 L1129.5,1538 L1129.5,1570 L1124.5,1572 Z" stroke-width="2" fill="none" />
<path d="M1136.5,1534 L1141.5,1532 L1141.5,1564 L1136.5,1566 Z" stroke-width="2" fill="none" />
<path d="M1147.5,1527 L1152.5,1525 L1152.5,1557 L1147.5,1559 Z" stroke-width="2" fill="none" />
<path d="M1048.5,1629 L1053.5,1627 L1053.5,1661 L1048.5,1663 Z" stroke-width="2" fill="none" />
<path d="M1061.5,1622 L1066.5,1620 L1066.5,1654 L1061.5,1656 Z" stroke-width="2" fill="none" />
<path d="M1073.5,1615 L1078.5,1613 L1078.5,1647 L1073.5,1649 Z" stroke-width="2" fill="none" />
<path d="M1087.5,1607 L1092.5,1605 L1092.5,1639 L1087.5,1641 Z" stroke-width="2" fill="none" />
<path d="M1100.5,1599 L1105.5,1597 L1105.5,1631 L1100.5,1633 Z" stroke-width="2" fill="none" />
<path d="M1113.5,1592 L1118.5,1590 L1118.5,1624 L1113.5,1626 Z" stroke-width="2" fill="none" />
<path d="M1124.5,1585 L1129.5,1583 L1129.5,1617 L1124.5,1619 Z" stroke-width="2" fill="none" />
<path d="M1136.5,1579 L1141.5,1577 L1141.5,1611 L1136.5,1613 Z" stroke-width="2" fill="none" />
<path d="M1147.5,1570 L1152.5,1568 L1152.5,1602 L1147.5,1604 Z" stroke-width="2" fill="none" />
<line x1="1178" y1="1144" x2="1232" y2="1174" stroke-width="2" />
<g transform="translate(1178,1142) rotate(29.8)"><path d="M60,-4 Q56,0 60,4 L76,4.5 L76,-4.5 Z" stroke-width="2" fill="#fff"/><path d="M63,-4 L65,4 M67,-4 L69,4 M71,-4 L73,4" stroke-width="1.4"/><path d="M76,-9 L86,-10 L93,-4 L93,5 L86,10 L76,9 Z" stroke-width="2" fill="#fff"/><ellipse cx="85" cy="0" rx="6" ry="7.5" stroke-width="1.8"/><path d="M82,-6 L82,6 M88,-6 L88,6" stroke-width="1.4"/></g>
<rect x="0" y="1846" width="1" height="1" fill="#000" stroke="none"/><rect x="1" y="1847" width="1" height="1" fill="#000" stroke="none"/>
</svg>
</body></html>
